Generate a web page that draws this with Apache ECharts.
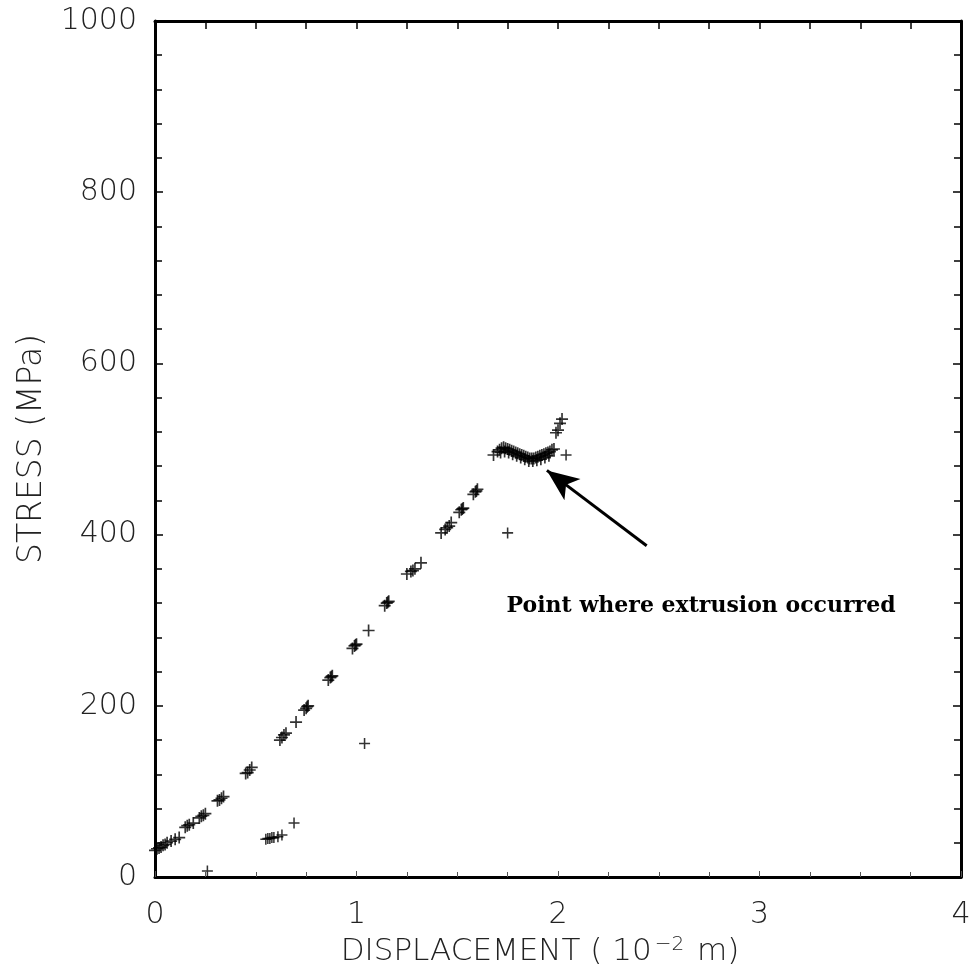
<!DOCTYPE html>
<html>
<head>
<meta charset="utf-8">
<script src="https://cdn.jsdelivr.net/npm/echarts@6/dist/echarts.min.js"></script>
<style>html,body{margin:0;padding:0;background:#fff}#c{width:974px;height:965px}</style>
</head>
<body>
<div id="c"></div>
<script>
// Loading curve (displacement in 10^-2 m, stress in MPa)
var loadDisp = [0.00,0.01,0.02,0.03,0.04,0.05,0.06,0.08,0.10,0.12,
  0.15,0.16,0.17,0.19, 0.22,0.23,0.24,0.25, 0.31,0.32,0.33,0.34, 0.45,0.46,0.47,0.48,
  0.62,0.63,0.64,0.65, 0.70, 0.74,0.75,0.755,0.76, 0.86,0.87,0.875,0.88, 0.98,0.99,0.995,1.00,
  1.06, 1.14,1.15,1.155,1.16, 1.25,1.27,1.28,1.29,1.32, 1.42,1.44,1.45,1.46,1.47,
  1.51,1.52,1.525,1.53, 1.58,1.59,1.595,1.60];
var loadStress = [31,33,34,35,37,38,40,42,44,46,
  58,60,61,63, 69,71,72,74, 89,90,92,94, 121,122,125,128,
  160,163,166,168, 181, 195,197,199,200, 230,233,234,235, 267,270,271,272,
  288, 317,320,321,322, 354,357,358,360,367, 402,406,408,410,414,
  426,429,430,431, 447,450,451,453];
// Extrusion plateau and after
var plateauDisp = [1.68,1.70,1.71,1.72,1.73,1.74,1.75,1.76,1.77,1.78,1.79,1.80,1.81,1.82,1.83,1.84,1.85,1.86,1.87,1.88,1.89,1.90,1.91,1.92,1.93,1.94,1.95,1.96,1.97,1.98,
  1.715,1.735,1.755,1.775,1.795,1.815,1.835,1.855,1.875,1.895,1.915,1.935,1.955,
  1.99,2.00,2.01,2.02];
var plateauStress = [493,497,499,501,502,501,500,499,498,497,496,495,494,493,492,491,490,489,489,489,490,491,492,493,494,495,496,497,499,500,
  496,497,496,494,492,490,488,486,486,487,488,490,492,
  519,522,530,535];
// Scattered points
var otherDisp = [0.26,0.55,0.56,0.57,0.58,0.59,0.61,0.63,0.69,1.04,1.75,2.04];
var otherStress = [7,44,45,45,46,46,47,49,63,156,402,493];

var xTicks = [0,1,2,3,4];
var yTicks = [0,200,400,600,800,1000];
var annotation = 'Point where extrusion occurred';
var arrowFrom = [2.44, 387], arrowTo = [1.945, 475], textAt = [2.71, 316];

function zip(a,b){return a.map(function(v,i){return [v,b[i]];});}
var plus = 'path://M4.3,0H5.7V4.3H10V5.7H5.7V10H4.3V5.7H0V4.3H4.3Z';
var FONT = 'DejaVu Sans';
var FW = 200;
function frame(extra){
  return Object.assign({
    axisLine:{show:true,onZero:false,lineStyle:{color:'#000',width:3}},
    axisTick:{show:true,inside:true,length:8,lineStyle:{color:'#000',width:1.5}},
    splitLine:{show:false}
  }, extra);
}
var chart = echarts.init(document.getElementById('c'));
chart.setOption({
  backgroundColor:'#fff',
  animation:false,
  grid:{left:155,right:13,top:21,bottom:88,show:false,containLabel:false,outerBoundsMode:'none'},
  xAxis:[
    frame({type:'value',min:0,max:4,interval:1,position:'bottom',
      minorTick:{show:true,splitNumber:4,length:5,lineStyle:{color:'#555',width:1}},
      axisTick:{show:true,inside:true,length:6,lineStyle:{color:'#555',width:1}},
      axisLabel:{show:true,margin:23,fontFamily:FONT,fontWeight:FW,fontSize:30,color:'#222',
        formatter:function(v){return xTicks.indexOf(v)>=0?String(v):'';}},
      name:'{a|DISPLACEMENT ( 10}{s|−2}{a| m)}',nameLocation:'middle',nameGap:51,
      nameTextStyle:{padding:[0,36,0,0],rich:{a:{fontFamily:FONT,fontWeight:FW,fontSize:31,color:'#222'},
        s:{fontFamily:FONT,fontWeight:FW,fontSize:20,color:'#222',verticalAlign:'top',padding:[0,3,14,3]}}}
    }),
    frame({type:'value',min:0,max:4,interval:1,position:'top',
      minorTick:{show:true,splitNumber:4,length:8,lineStyle:{color:'#000',width:1.5}},
      axisLabel:{show:false}})
  ],
  yAxis:[
    frame({type:'value',min:0,max:1000,interval:200,position:'left',
      minorTick:{show:true,splitNumber:5,length:7,lineStyle:{color:'#000',width:1.5}},
      axisLabel:{margin:18,fontFamily:FONT,fontWeight:FW,fontSize:30,color:'#222',
        formatter:function(v){return yTicks.indexOf(v)>=0?String(v):'';}},
      name:'STRESS (MPa)',nameLocation:'middle',nameGap:106,nameRotate:90,
      nameTextStyle:{fontFamily:FONT,fontWeight:FW,fontSize:33,color:'#222'}}),
    frame({type:'value',min:0,max:1000,interval:200,position:'right',
      minorTick:{show:true,splitNumber:5,length:7,lineStyle:{color:'#000',width:1.5}},
      axisLabel:{show:false}})
  ],
  series:[
    {type:'scatter',data:zip(loadDisp,loadStress),symbol:plus,symbolSize:12,
      itemStyle:{color:'#000'},
      markLine:{silent:true,symbol:['none','arrow'],symbolSize:[20,32],
        lineStyle:{color:'#000',width:3,type:'solid'},label:{show:false},
        data:[[{coord:arrowFrom},{coord:arrowTo}]]},
      markPoint:{silent:true,symbol:'circle',symbolSize:0,
        label:{show:true,formatter:annotation,fontFamily:'DejaVu Serif',fontWeight:'bold',fontSize:22,color:'#000',position:'inside'},
        data:[{coord:textAt}]}},
    {type:'scatter',data:zip(plateauDisp,plateauStress),symbol:plus,symbolSize:12,itemStyle:{color:'#000'}},
    {type:'scatter',data:zip(otherDisp,otherStress),symbol:plus,symbolSize:11,itemStyle:{color:'#000'}}
  ]
});
</script>
</body>
</html>
